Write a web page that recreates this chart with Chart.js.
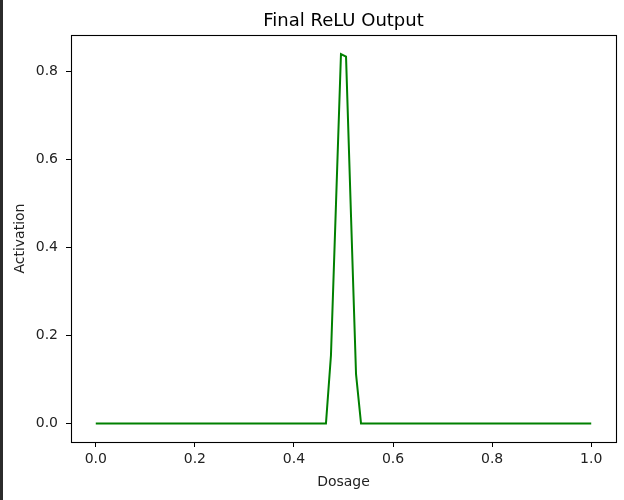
<!DOCTYPE html>
<html lang="en">

<head>
	<meta charset="UTF-8">
	<title>Final ReLU Output</title>
	<script src="https://cdn.jsdelivr.net/npm/chart.js"></script>
	<style>
		body {
			margin: 0;
			background: #fff;
		}

		#wrap {
			position: relative;
			width: 624px;
			height: 500px;
		}

		#edge {
			position: absolute;
			left: 0;
			top: 0;
			width: 3px;
			height: 500px;
			background: #2b2b2b;
		}
	</style>
</head>

<body>
	<div id="wrap">
		<canvas id="reluChart"></canvas>
		<div id="edge"></div>
	</div>

	<script>
		// vertices of the output curve (flat zero everywhere else)
		const dosage = [0.0, 0.4646, 0.4747, 0.4848, 0.4949, 0.5051, 0.5152, 0.5253, 0.5354, 1.0];
		const activation = [0.0, 0.0, 0.155, 0.497, 0.839, 0.833, 0.47, 0.112, 0.0, 0.0];

		const xTicks = [0.0, 0.2, 0.4, 0.6, 0.8, 1.0];
		const yTicks = [0.0, 0.2, 0.4, 0.6, 0.8];

		const font = { family: 'DejaVu Sans', size: 14 };

		// matplotlib-like frame around the plot area, title centred over it
		const framePlugin = {
			id: 'frame',
			afterLayout(chart) {
				if (chart.titleBlock) {
					chart.titleBlock.left = chart.chartArea.left;
					chart.titleBlock.right = chart.chartArea.right;
				}
			},
			afterDraw(chart) {
				const a = chart.chartArea;
				const ctx = chart.ctx;
				ctx.save();
				ctx.strokeStyle = '#000';
				ctx.lineWidth = 1.1;
				ctx.strokeRect(Math.round(a.left) + 0.5, Math.round(a.top) + 0.5,
					Math.round(a.right - a.left), Math.round(a.bottom - a.top));
				ctx.restore();
			}
		};

		const ctx = document.getElementById('reluChart').getContext('2d');
		const reluChart = new Chart(ctx, {
			type: 'line',
			data: {
				datasets: [{
					label: 'Final ReLU Output',
					data: dosage.map((d, i) => ({ x: d, y: activation[i] })),
					borderColor: '#008000',
					borderWidth: 2,
					pointRadius: 0,
					fill: false,
					tension: 0
				}]
			},
			options: {
				responsive: true,
				maintainAspectRatio: false,
				animation: false,
				layout: { padding: { left: 0, right: 8, top: 0, bottom: 0 } },
				plugins: {
					legend: { display: false },
					tooltip: { enabled: false },
					title: {
						display: true,
						text: 'Final ReLU Output',
						color: '#000',
						font: { family: 'DejaVu Sans', size: 18, weight: 'normal' },
						padding: { top: 10.5, bottom: 3 }
					}
				},
				scales: {
					x: {
						type: 'linear',
						min: -0.05,
						max: 1.05,
						afterBuildTicks: s => { s.ticks = xTicks.map(v => ({ value: v })); },
						afterFit: s => { s.height = 58; },
						border: { display: false },
						grid: { drawOnChartArea: false, drawTicks: true, tickLength: 5, color: '#000' },
						ticks: {
							color: '#222', font: font, padding: 4, maxRotation: 0,
							callback: v => v.toFixed(1)
						},
						title: { display: true, text: 'Dosage', color: '#222', font: font, padding: { top: 0, bottom: 9 } }
					},
					y: {
						type: 'linear',
						min: -0.042,
						max: 0.882,
						afterBuildTicks: s => { s.ticks = yTicks.map(v => ({ value: v })); },
						afterFit: s => { s.width = 71; },
						border: { display: false },
						grid: { drawOnChartArea: false, drawTicks: true, tickLength: 5, color: '#000' },
						ticks: {
							color: '#222', font: font, padding: 8,
							callback: v => v.toFixed(1)
						},
						title: { display: true, text: 'Activation', color: '#222', font: font, padding: { top: 12, bottom: 0 } }
					}
				}
			},
			plugins: [framePlugin]
		});
	</script>
</body>

</html>
